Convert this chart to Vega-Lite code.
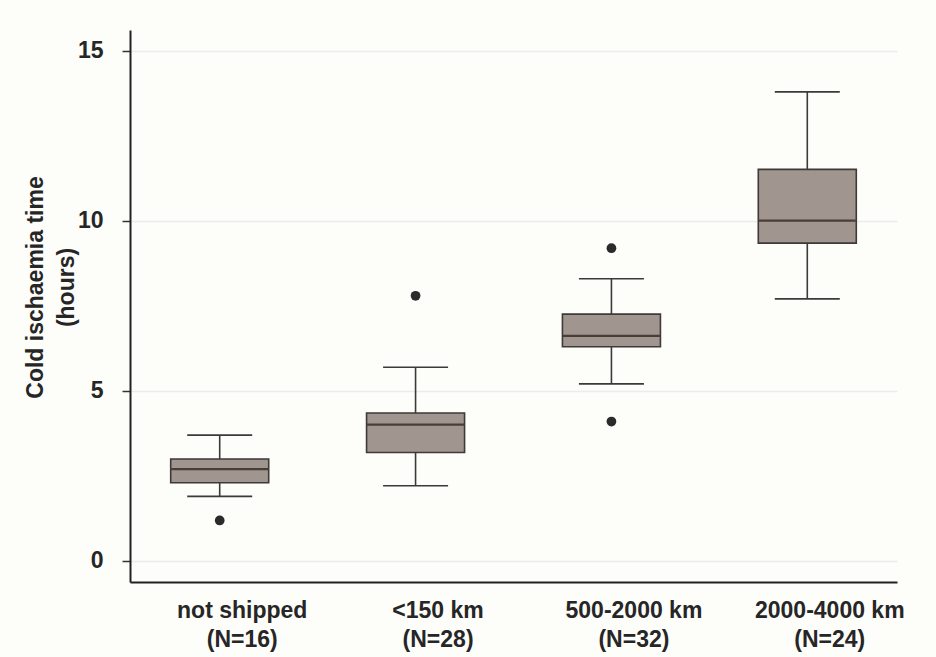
{
  "$schema": "https://vega.github.io/schema/vega-lite/v6.json",
  "autosize": {"type": "none"},
  "padding": {"left": 130, "top": 30, "right": 39, "bottom": 75},
  "width": 767,
  "height": 552,
  "background": "#fdfdfa",
  "config": {
    "view": {"stroke": null},
    "font": "Liberation Sans"
  },
  "datasets": {
    "boxes": [
      {"group": "not shipped (N=16)", "lower": 1.89, "q1": 2.29, "median": 2.69, "q3": 2.99, "upper": 3.69},
      {"group": "<150 km (N=28)", "lower": 2.2, "q1": 3.18, "median": 4.0, "q3": 4.34, "upper": 5.69},
      {"group": "500-2000 km (N=32)", "lower": 5.2, "q1": 6.29, "median": 6.61, "q3": 7.25, "upper": 8.29},
      {"group": "2000-4000 km (N=24)", "lower": 7.7, "q1": 9.34, "median": 10.0, "q3": 11.51, "upper": 13.79}
    ],
    "outliers": [
      {"group": "not shipped (N=16)", "value": 1.18},
      {"group": "<150 km (N=28)", "value": 7.79},
      {"group": "500-2000 km (N=32)", "value": 9.19},
      {"group": "500-2000 km (N=32)", "value": 4.09}
    ]
  },
  "encoding": {
    "x": {
      "field": "group",
      "type": "nominal",
      "sort": null,
      "scale": {"type": "point", "padding": 0.458},
      "axis": {
        "title": null,
        "ticks": false,
        "grid": false,
        "domainColor": "#222222",
        "domainWidth": 2,
        "labelAngle": 0,
        "labelFont": "Liberation Sans",
        "labelFontWeight": "bold",
        "labelFontSize": 23,
        "labelColor": "#262626",
        "labelPadding": 17,
        "labelOffset": 22,
        "labelLineHeight": 29,
        "labelExpr": "[slice(datum.value, 0, indexof(datum.value, ' (')), slice(datum.value, indexof(datum.value, ' (') + 1)]"
      }
    }
  },
  "layer": [
    {
      "data": {"name": "boxes"},
      "mark": {"type": "rule", "color": "#3a3a3a", "strokeWidth": 1.6},
      "encoding": {
        "y": {
          "field": "lower",
          "type": "quantitative",
          "scale": {"domain": [-0.63, 15.61], "nice": false, "zero": false},
          "axis": {
            "values": [0, 5, 10, 15],
            "grid": true,
            "gridColor": "#ececec",
            "gridWidth": 1.5,
            "tickColor": "#333333",
            "tickSize": 8,
            "tickWidth": 1.5,
            "domainColor": "#222222",
            "domainWidth": 2,
            "labelFont": "Liberation Sans",
            "labelFontWeight": "bold",
            "labelFontSize": 23,
            "labelColor": "#262626",
            "labelPadding": 19,
            "title": ["Cold ischaemia time", "(hours)"],
            "titleFont": "Liberation Sans",
            "titleFontWeight": "bold",
            "titleFontSize": 23,
            "titleColor": "#262626",
            "titleLineHeight": 31,
            "titleAngle": -90,
            "titleBaseline": "middle",
            "titleAlign": "center",
            "titleX": -95,
            "titleY": 257
          }
        },
        "y2": {"field": "upper"}
      }
    },
    {
      "data": {"name": "boxes"},
      "mark": {"type": "bar", "width": 98, "fill": "#a0968f", "stroke": "#3d3a38", "strokeWidth": 1.6},
      "encoding": {
        "y": {"field": "q1", "type": "quantitative"},
        "y2": {"field": "q3"}
      }
    },
    {
      "data": {"name": "boxes"},
      "mark": {"type": "tick", "size": 97, "thickness": 2.2, "color": "#4a3c36", "opacity": 1},
      "encoding": {
        "y": {"field": "median", "type": "quantitative"}
      }
    },
    {
      "data": {"name": "boxes"},
      "mark": {"type": "tick", "size": 65, "thickness": 1.6, "color": "#3a3a3a", "opacity": 1},
      "encoding": {
        "y": {"field": "lower", "type": "quantitative"}
      }
    },
    {
      "data": {"name": "boxes"},
      "mark": {"type": "tick", "size": 65, "thickness": 1.6, "color": "#3a3a3a", "opacity": 1},
      "encoding": {
        "y": {"field": "upper", "type": "quantitative"}
      }
    },
    {
      "data": {"name": "outliers"},
      "mark": {"type": "point", "filled": true, "color": "#2b2b2b", "opacity": 1, "size": 95},
      "encoding": {
        "y": {"field": "value", "type": "quantitative"}
      }
    }
  ]
}
